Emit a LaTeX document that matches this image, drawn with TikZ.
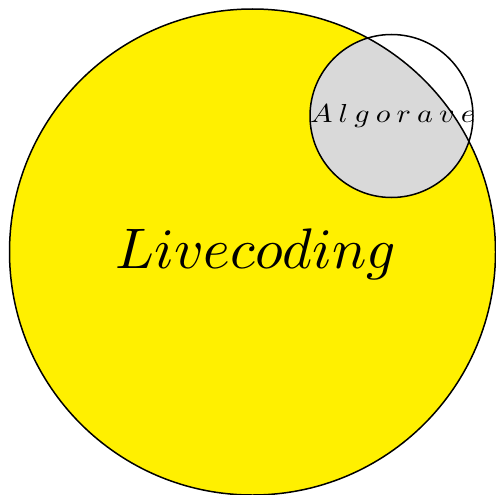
\documentclass[tikz,border=0pt]{standalone}
\definecolor{vyellow}{RGB}{255,240,0}
\definecolor{vgray}{RGB}{217,217,217}
\tikzset{
  ring/.style={draw=black, line width=1.5pt},
  biglabel/.style={inner sep=0pt, anchor=base},
  smalllabel/.style={inner sep=0pt, anchor=base}
}
\begin{document}
\begin{tikzpicture}[x=1pt,y=-1pt]
\useasboundingbox (0,0) rectangle (495,495);
\coordinate (bigc) at (252.5,252);
\coordinate (smallc) at (391.5,116);
\fill[vyellow] (bigc) circle[radius=243];
\begin{scope}
  \clip (bigc) circle[radius=243];
  \fill[vgray] (smallc) circle[radius=81.5];
\end{scope}
\node[smalllabel] (algo) at (392.5,122)
  {\scalebox{3.0}[2.6]{$A\kern2.05pt l\kern2.05pt g\kern2.05pt o\kern2.05pt r\kern2.05pt a\kern2.05pt v\kern2.05pt e$}};
\node[biglabel] (live) at (256,268) {\scalebox{5.72}{$Livecoding$}};
\draw[ring] (bigc) circle[radius=243];
\draw[ring] (smallc) circle[radius=81.5];
\end{tikzpicture}
\end{document}
